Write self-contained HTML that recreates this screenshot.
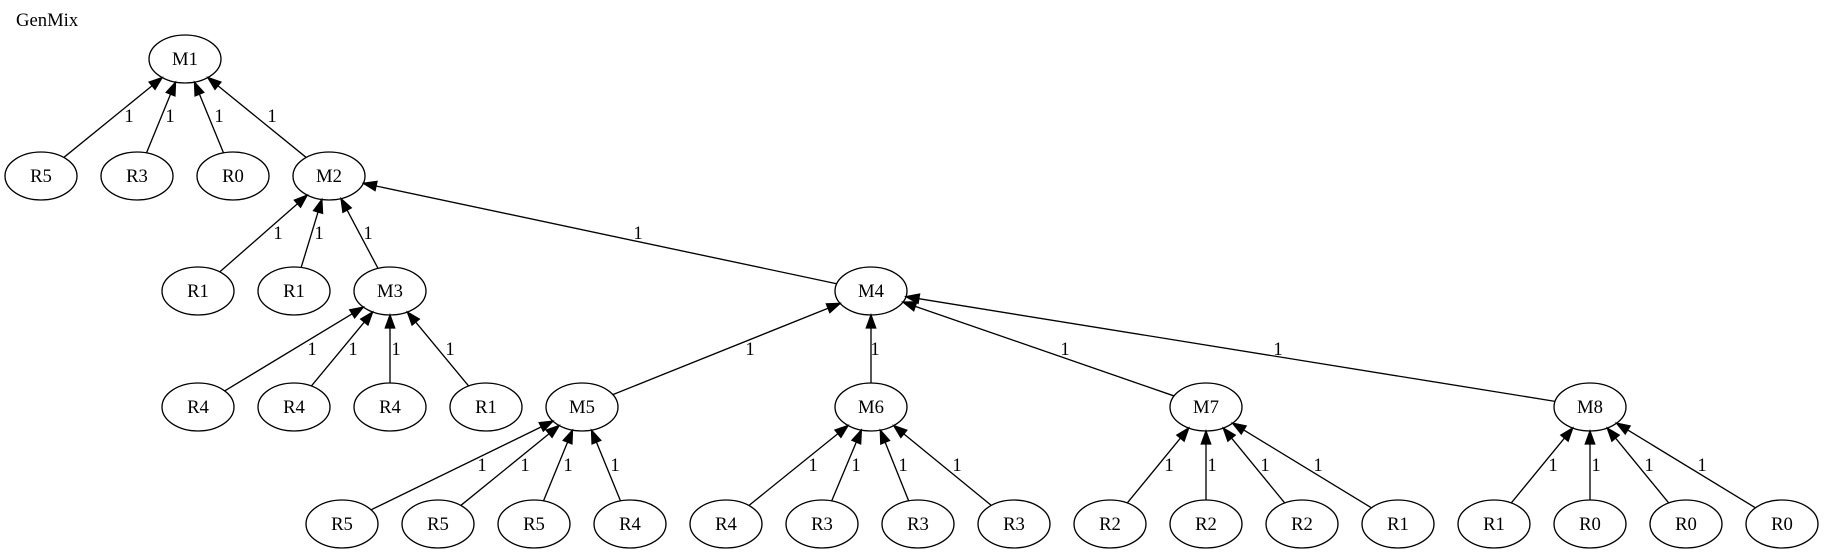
<!DOCTYPE html>
<html><head><meta charset="utf-8"><style>
html,body{margin:0;padding:0;background:#fff;}
svg{display:block;}
text{font-family:"Liberation Serif",serif;font-size:18.67px;fill:#000;}
</style></head><body>
<svg id="g" width="1824" height="553" viewBox="0 0 1824 553" xmlns="http://www.w3.org/2000/svg">
<text x="16" y="26">GenMix</text>
</svg>
<script>
var N={
M1:[185,59],R5a:[41,176],R3a:[137,176],R0a:[233,176],M2:[329,176],
R1a:[198,291],R1b:[294,291],M3:[390,291],M4:[871,291],
R4a:[198,407],R4b:[294,407],R4c:[390,407],R1c:[486,407],M5:[582,407],M6:[871,407],M7:[1206,407],M8:[1590,407],
R5b:[342,524],R5c:[438,524],R5d:[534,524],R4d:[630,524],R4e:[726,524],R3b:[822,524],R3c:[918,524],R3d:[1014,524],
R2a:[1110,524],R2b:[1206,524],R2c:[1302,524],R1d:[1398,524],R1e:[1494,524],R0b:[1590,524],R0c:[1686,524],R0d:[1782,524]};
var E=[
["R5a","M1",129,116],["R3a","M1",170,116],["R0a","M1",219,116],["M2","M1",272,116],
["R1a","M2",278,233],["R1b","M2",319,233],["M3","M2",368,233],["M4","M2",638,233],
["R4a","M3",312,349],["R4b","M3",353,349],["R4c","M3",396,349],["R1c","M3",450,349],
["M5","M4",750,349],["M6","M4",875,349],["M7","M4",1065,349],["M8","M4",1278,349],
["R5b","M5",482,465],["R5c","M5",525,465],["R5d","M5",568,465],["R4d","M5",615,465],
["R4e","M6",813,465],["R3b","M6",856,465],["R3c","M6",903,465],["R3d","M6",957,465],
["R2a","M7",1169,465],["R2b","M7",1212,465],["R2c","M7",1265,465],["R1d","M7",1318,465],
["R1e","M8",1553,465],["R0b","M8",1596,465],["R0c","M8",1649,465],["R0d","M8",1702,465]];
var rx=36,ry=24,s="";
function bp(c,dx,dy){var t=1/Math.sqrt((dx/rx)*(dx/rx)+(dy/ry)*(dy/ry));return [c[0]+dx*t,c[1]+dy*t];}
E.forEach(function(e){
 var a=N[e[0]],b=N[e[1]];var dx=b[0]-a[0],dy=b[1]-a[1];
 var p=bp(a,dx,dy),q=bp(b,-dx,-dy);
 var L=Math.hypot(q[0]-p[0],q[1]-p[1]);var ux=(q[0]-p[0])/L,uy=(q[1]-p[1])/L;
 var bx=q[0]-ux*13,by=q[1]-uy*13;
 s+='<line x1="'+p[0]+'" y1="'+p[1]+'" x2="'+bx+'" y2="'+by+'" stroke="#000" stroke-width="1.33"/>';
 s+='<polygon points="'+q[0]+','+q[1]+' '+(bx-uy*4.7)+','+(by+ux*4.7)+' '+(bx+uy*4.7)+','+(by-ux*4.7)+'" fill="#000" stroke="#000" stroke-width="1.33"/>';
 s+='<text x="'+e[2]+'" y="'+(e[3]+6)+'" text-anchor="middle">1</text>';
});
for(var k in N){var c=N[k];
 s+='<ellipse cx="'+c[0]+'" cy="'+c[1]+'" rx="36" ry="24" fill="none" stroke="#000" stroke-width="1.33"/>';
 s+='<text x="'+c[0]+'" y="'+(c[1]+6)+'" text-anchor="middle">'+k.slice(0,2)+'</text>';}
document.getElementById("g").insertAdjacentHTML("beforeend",s);
</script>
</body></html>
